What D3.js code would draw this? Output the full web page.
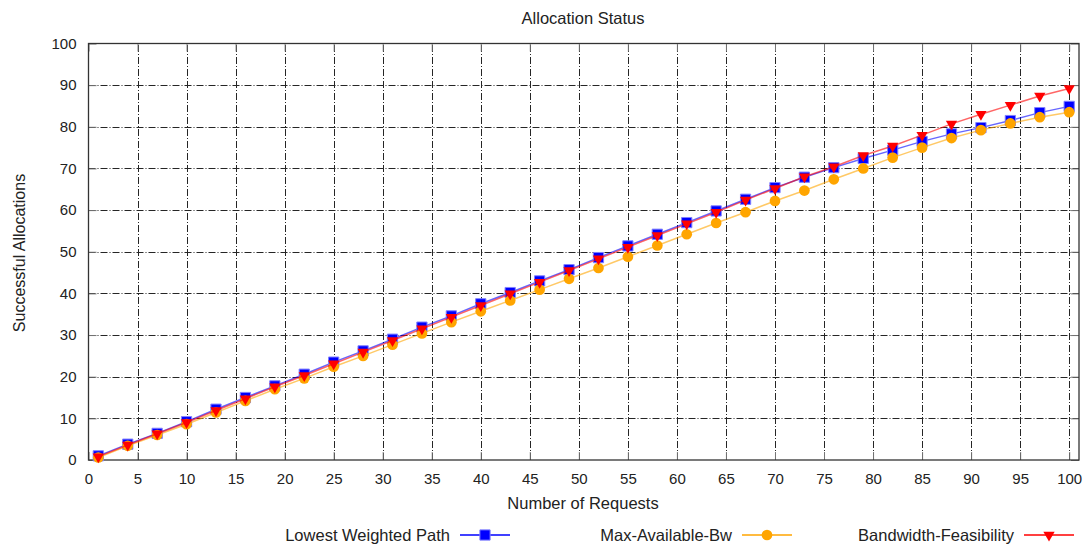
<!DOCTYPE html>
<html>
<head>
<meta charset="utf-8">
<script src="https://cdn.jsdelivr.net/npm/d3@7/dist/d3.min.js"></script>
<style>
  html, body { margin: 0; padding: 0; background: #fff; }
  svg { display: block; font-family: "Liberation Sans", Arial, sans-serif; }
</style>
</head>
<body>
<svg id="chart" width="1089" height="545"></svg>
<script>
// Number of requests sampled every 3 steps
const requests = [1, 4, 7, 10, 13, 16, 19, 22, 25, 28, 31, 34, 37, 40, 43, 46, 49,
  52, 55, 58, 61, 64, 67, 70, 73, 76, 79, 82, 85, 88, 91, 94, 97, 100];

const lowestWeightedPath = [1.0, 3.8, 6.4, 9.2, 12.2, 15.0, 17.8, 20.6, 23.5, 26.2, 29.0,
  31.9, 34.6, 37.5, 40.2, 43.0, 45.7, 48.6, 51.4, 54.2, 57.0, 59.8, 62.6, 65.4,
  67.9, 70.2, 72.4, 74.4, 76.5, 78.3, 79.8, 81.5, 83.4, 84.9];

const maxAvailableBw = [0.6, 3.4, 6.0, 8.6, 11.4, 14.2, 17.0, 19.6, 22.4, 25.0, 27.7,
  30.4, 33.1, 35.7, 38.3, 40.9, 43.5, 46.1, 48.8, 51.5, 54.2, 56.9, 59.5, 62.2,
  64.7, 67.4, 70.0, 72.6, 75.0, 77.3, 79.2, 80.8, 82.3, 83.5];

const bandwidthFeasibility = [0.8, 3.6, 6.3, 9.0, 11.9, 14.7, 17.6, 20.3, 23.1, 25.9, 28.7,
  31.5, 34.3, 37.1, 39.9, 42.7, 45.5, 48.3, 51.1, 53.9, 56.7, 59.5, 62.4, 65.2,
  68.0, 70.4, 73.1, 75.4, 78.0, 80.7, 83.0, 85.2, 87.4, 89.2];

const seriesNames = ["Lowest Weighted Path", "Max-Available-Bw", "Bandwidth-Feasibility"];
const xTicks = d3.range(0, 101, 5);
const yTicks = d3.range(0, 101, 10);

const series = [
  { name: seriesNames[0], values: lowestWeightedPath, color: "#0000ff", symbol: "square" },
  { name: seriesNames[1], values: maxAvailableBw, color: "#ffa500", symbol: "circle" },
  { name: seriesNames[2], values: bandwidthFeasibility, color: "#ff0000", symbol: "triangle" }
];

const svg = d3.select("#chart");
const margin = { left: 88.5, top: 43.5, right: 1079, bottom: 460 };

const x = d3.scaleLinear().domain([0, 101]).range([margin.left, margin.right]);
const y = d3.scaleLinear().domain([0, 100]).range([margin.bottom, margin.top]);

// Grid (dash-dot)
const grid = svg.append("g").attr("stroke", "#000").attr("stroke-width", 1)
  .attr("stroke-dasharray", "7,2,1,2").attr("opacity", 0.85);
grid.selectAll("line.gx").data(xTicks.filter(d => d > 0)).join("line")
  .attr("x1", d => Math.round(x(d)) + 0.5).attr("x2", d => Math.round(x(d)) + 0.5)
  .attr("y1", margin.bottom).attr("y2", margin.top);
grid.selectAll("line.gy").data(yTicks.filter(d => d > 0 && d < 100)).join("line")
  .attr("y1", d => Math.round(y(d)) + 0.5).attr("y2", d => Math.round(y(d)) + 0.5)
  .attr("x1", margin.left).attr("x2", margin.right);

// Axes with inward ticks, mirrored on top and right
const axisBottom = d3.axisBottom(x).tickValues(xTicks).tickSizeInner(-8).tickSizeOuter(0).tickPadding(13);
const axisLeft = d3.axisLeft(y).tickValues(yTicks).tickSizeInner(-8).tickSizeOuter(0).tickPadding(12);
const axisTop = d3.axisTop(x).tickValues(xTicks).tickSizeInner(-8).tickSizeOuter(0).tickFormat("");
const axisRight = d3.axisRight(y).tickValues(yTicks).tickSizeInner(-8).tickSizeOuter(0).tickFormat("");

function styleAxis(g) {
  g.select(".domain").remove();
  g.selectAll(".tick line").attr("stroke", "#777");
  g.selectAll(".tick text").attr("fill", "#222").style("font-size", "15px")
    .style("font-family", "'Liberation Sans', Arial, sans-serif");
}
svg.append("g").attr("transform", `translate(0,${margin.bottom})`).call(axisBottom).call(styleAxis);
svg.append("g").attr("transform", `translate(${margin.left},0)`).call(axisLeft).call(styleAxis);
svg.append("g").attr("transform", `translate(0,${margin.top})`).call(axisTop).call(styleAxis);
svg.append("g").attr("transform", `translate(${margin.right},0)`).call(axisRight).call(styleAxis);

// Frame
svg.append("rect")
  .attr("x", margin.left).attr("y", margin.top)
  .attr("width", margin.right - margin.left).attr("height", margin.bottom - margin.top)
  .attr("fill", "none").attr("stroke", "#333").attr("stroke-width", 1.3);

// Marker shapes
const symbolGen = {
  square: d3.symbol().type(d3.symbolSquare).size(105),
  circle: d3.symbol().type(d3.symbolCircle).size(90),
  triangle: d3.symbol().type(d3.symbolTriangle).size(55)
};

function drawMarker(g, s, cx, cy) {
  const p = g.append("path")
    .attr("d", symbolGen[s.symbol]())
    .attr("fill", s.color);
  if (s.symbol === "triangle") {
    p.attr("transform", `translate(${cx},${cy}) rotate(180)`);
  } else {
    p.attr("transform", `translate(${cx},${cy})`);
  }
  if (s.symbol === "square") p.attr("stroke", "#8080ff").attr("stroke-width", 1);
}

const line = d3.line().x((d, i) => x(requests[i])).y(d => y(d));

series.forEach(s => {
  const g = svg.append("g");
  g.append("path").datum(s.values)
    .attr("d", line)
    .attr("fill", "none")
    .attr("stroke", s.color)
    .attr("stroke-opacity", 0.6)
    .attr("stroke-width", 1.5);
  s.values.forEach((v, i) => drawMarker(g, s, x(requests[i]), y(v)));
});

// Title and axis labels
svg.append("text").attr("x", 583).attr("y", 24).attr("text-anchor", "middle")
  .style("font-size", "16.5px").attr("fill", "#222").text("Allocation Status");
svg.append("text").attr("x", 583).attr("y", 509).attr("text-anchor", "middle")
  .style("font-size", "16.5px").attr("fill", "#222").text("Number of Requests");
svg.append("text").attr("transform", "translate(25,253) rotate(-90)")
  .attr("text-anchor", "middle").style("font-size", "16px").attr("fill", "#222")
  .text("Successful Allocations");

// Legend: three equal-width columns, sample marker centred on its line
const legendCenters = [485, 767, 1049];
const ly = 535;
series.forEach((s, i) => {
  const m = legendCenters[i];
  const g = svg.append("g");
  g.append("text").attr("x", m - 35).attr("y", ly + 6).attr("text-anchor", "end")
    .style("font-size", "16.5px").attr("fill", "#222").text(s.name);
  g.append("line").attr("x1", m - 25).attr("x2", m + 25)
    .attr("y1", ly).attr("y2", ly).attr("stroke", s.color).attr("stroke-width", 1.5);
  drawMarker(g, s, m, ly);
});
</script>
</body>
</html>
